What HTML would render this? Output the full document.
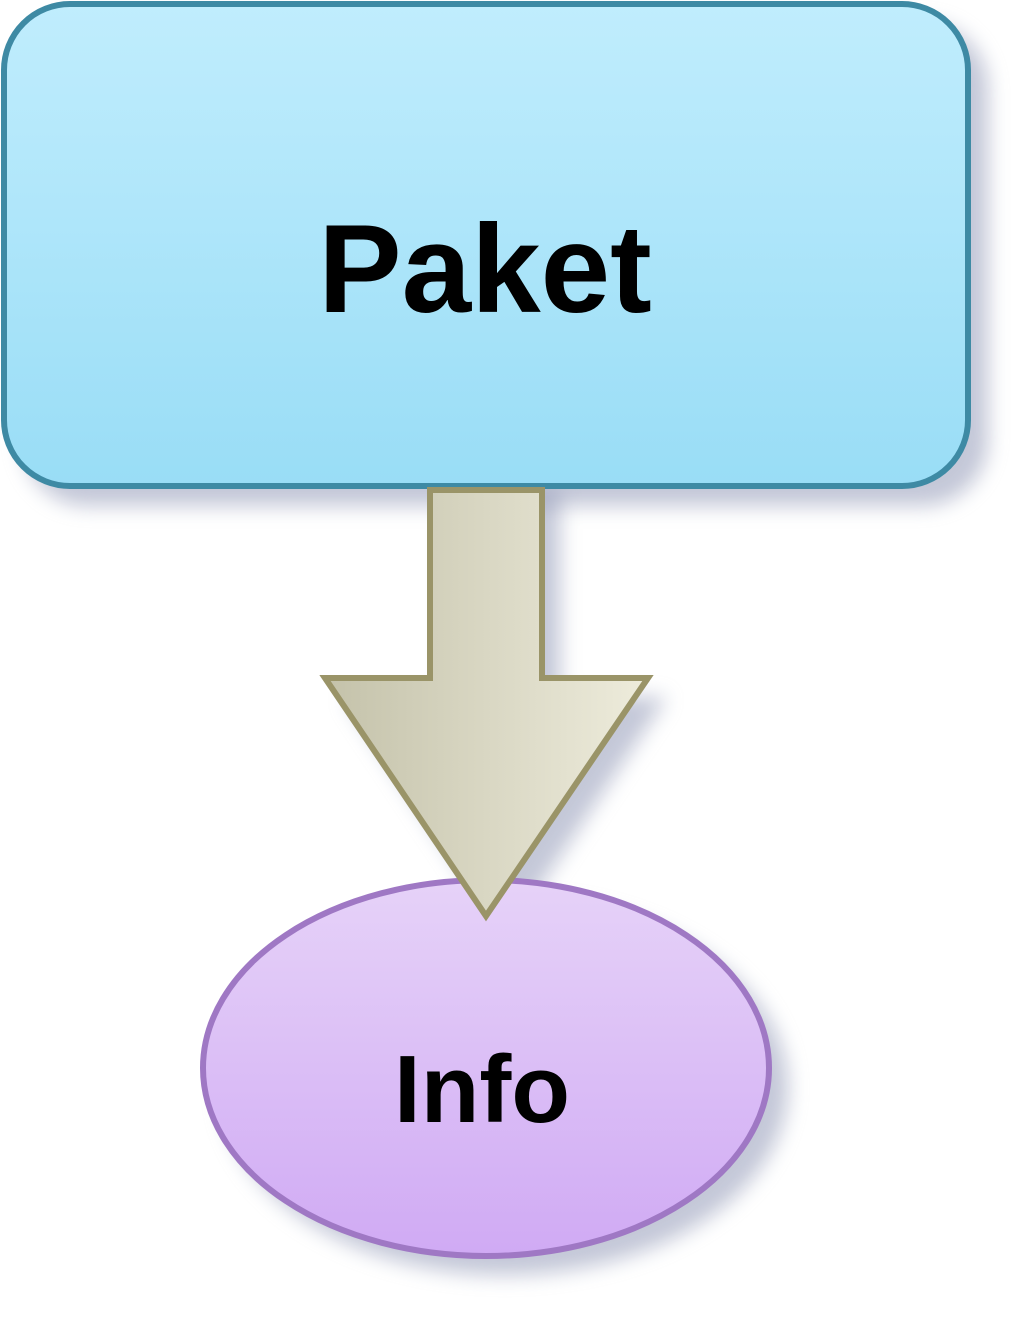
<!DOCTYPE html>
<html><head><style>html,body{margin:0;padding:0;background:#fff;}</style></head>
<body>
<svg width="1021" height="1318" viewBox="0 0 1021 1318" xmlns="http://www.w3.org/2000/svg">
<defs>
<linearGradient id="b" x1="0" y1="0" x2="0" y2="1"><stop offset="0" stop-color="#c0edfd"/><stop offset="1" stop-color="#99ddf6"/></linearGradient>
<linearGradient id="e" x1="0" y1="0" x2="0" y2="1"><stop offset="0" stop-color="#e6d2f8"/><stop offset="1" stop-color="#d0aaf4"/></linearGradient>
<linearGradient id="a" x1="0" y1="0" x2="1" y2="0"><stop offset="0" stop-color="#c4c2aa"/><stop offset="1" stop-color="#eeecdc"/></linearGradient>
<filter id="s" x="-20%" y="-20%" width="140%" height="140%"><feGaussianBlur stdDeviation="10"/></filter>
</defs>
<rect x="22" y="22" width="966" height="484" rx="66" fill="#8890b0" opacity="0.5" filter="url(#s)"/>
<ellipse cx="505" cy="1087" rx="283" ry="188" fill="#8890b0" opacity="0.5" filter="url(#s)"/>
<path d="M448 490 L560 490 L560 697 L667 697 L506 937 L345 697 L448 697 Z" fill="#8890b0" opacity="0.5" filter="url(#s)"/>
<ellipse cx="486" cy="1068" rx="283" ry="188" fill="url(#e)" stroke="#9f78c4" stroke-width="6"/>
<text x="482" y="1122" font-family="Liberation Sans, sans-serif" font-weight="bold" font-size="96" text-anchor="middle">Info</text>
<rect x="4" y="4" width="964" height="482" rx="66" fill="url(#b)" stroke="#3e8aa4" stroke-width="6"/>
<text x="485" y="312" font-family="Liberation Sans, sans-serif" font-weight="bold" font-size="125" text-anchor="middle">Paket</text>
<path d="M430 490 L542 490 L542 678 L648 678 L486 916 L325 678 L430 678 Z" fill="url(#a)" stroke="#9a9468" stroke-width="6"/>
</svg>
</body></html>
